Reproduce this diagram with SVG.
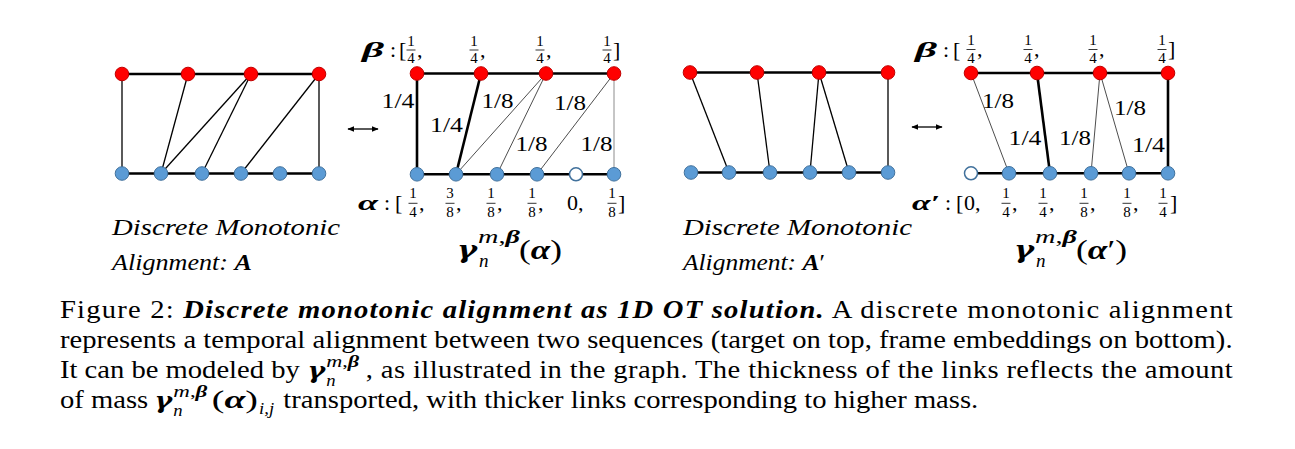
<svg xmlns="http://www.w3.org/2000/svg" width="1295" height="449" viewBox="0 0 1295 449">
<style>
text{font-family:"Liberation Serif","Times New Roman",serif;fill:#000}
.it{font-style:italic}
.bi{font-style:italic;font-weight:bold}
.g{font-family:"DejaVu Serif",serif;font-style:italic;font-weight:bold}
.r{fill:#ff0000;stroke:#c00000;stroke-width:1}
.b{fill:#5b9bd5;stroke:#41719c;stroke-width:1}
.w{fill:#ffffff;stroke:#41719c;stroke-width:1.5}
.chain{stroke:#000;stroke-width:2.6;fill:none}
.l1{stroke:#000;stroke-width:1.3}
.thick{stroke:#000;stroke-width:2.6}
.thin{stroke:#000;stroke-width:0.7}
.gray{stroke:#8c8c8c;stroke-width:1}
.lab{font-size:20px;text-anchor:middle}
.fr{font-size:15px;text-anchor:middle}
.bar{stroke:#000;stroke-width:0.8}
.m{font-size:22px}
.arr{stroke:#000;stroke-width:1.3;marker-start:url(#ah);marker-end:url(#ah)}
.cap{font-size:26px}
.sm{font-size:17px}
</style>
<defs>
<marker id="ah" viewBox="0 0 10 10" refX="9" refY="5" markerWidth="7" markerHeight="7" markerUnits="userSpaceOnUse" orient="auto-start-reverse">
<path d="M0,1 L10,5 L0,9 z" fill="#000"/>
</marker>
</defs>

<g id="connectors">
<line class="chain" x1="122" y1="74" x2="319" y2="74"/>
<line class="chain" x1="122" y1="173.5" x2="319" y2="173.5"/>
<line class="l1" x1="122" y1="74" x2="122" y2="173.5"/>
<line class="l1" x1="188" y1="74" x2="161" y2="173.5"/>
<line class="l1" x1="251" y1="74" x2="161" y2="173.5"/>
<line class="l1" x1="251" y1="74" x2="202" y2="173.5"/>
<line class="l1" x1="319" y1="74" x2="241" y2="173.5"/>
<line class="l1" x1="319" y1="74" x2="319" y2="173.5"/>
<line class="chain" x1="417" y1="73.5" x2="614" y2="73.5"/>
<line class="chain" x1="417" y1="174.3" x2="614" y2="174.3"/>
<line class="thick" x1="417" y1="73.5" x2="417" y2="174.3"/>
<line class="thick" x1="481" y1="73.5" x2="456" y2="174.3"/>
<line class="thin" x1="546" y1="73.5" x2="456" y2="174.3"/>
<line class="thin" x1="546" y1="73.5" x2="497" y2="174.3"/>
<line class="thin" x1="614" y1="73.5" x2="537" y2="174.3"/>
<line class="gray" x1="614" y1="73.5" x2="614" y2="174.3"/>
<line class="chain" x1="690" y1="72.5" x2="888" y2="72.5"/>
<line class="chain" x1="691" y1="172.5" x2="888" y2="172.5"/>
<line class="l1" x1="690" y1="72.5" x2="729" y2="172.5"/>
<line class="l1" x1="757" y1="72.5" x2="770" y2="172.5"/>
<line class="l1" x1="819" y1="72.5" x2="810" y2="172.5"/>
<line class="l1" x1="819" y1="72.5" x2="849" y2="172.5"/>
<line class="l1" x1="888" y1="72.5" x2="888" y2="172.5"/>
<line class="chain" x1="971" y1="73" x2="1168" y2="73"/>
<line class="chain" x1="971" y1="173.3" x2="1168" y2="173.3"/>
<line class="thin" x1="971" y1="73" x2="1009" y2="173.3"/>
<line class="thick" x1="1037" y1="73" x2="1050" y2="173.3"/>
<line class="thin" x1="1100" y1="73" x2="1091" y2="173.3"/>
<line class="thin" x1="1100" y1="73" x2="1129" y2="173.3"/>
<line class="thick" x1="1168" y1="73" x2="1168" y2="173.3"/>
<line class="arr" x1="348" y1="129" x2="378" y2="129"/>
<line class="arr" x1="912" y1="127" x2="942" y2="127"/>
</g>

<g id="d1-nodes">
<g id="d1-r0"><circle class="r" cx="122" cy="74" r="6.8"/></g>
<g id="d1-r1"><circle class="r" cx="188" cy="74" r="6.8"/></g>
<g id="d1-r2"><circle class="r" cx="251" cy="74" r="6.8"/></g>
<g id="d1-r3"><circle class="r" cx="319" cy="74" r="6.8"/></g>
<g id="d1-b0"><circle class="b" cx="122" cy="173.5" r="6.8"/></g>
<g id="d1-b1"><circle class="b" cx="161" cy="173.5" r="6.8"/></g>
<g id="d1-b2"><circle class="b" cx="202" cy="173.5" r="6.8"/></g>
<g id="d1-b3"><circle class="b" cx="241" cy="173.5" r="6.8"/></g>
<g id="d1-b4"><circle class="b" cx="280" cy="173.5" r="6.8"/></g>
<g id="d1-b5"><circle class="b" cx="319" cy="173.5" r="6.8"/></g>
</g>
<g id="d2-nodes">
<g id="d2-r0"><circle class="r" cx="417" cy="73.5" r="6.8"/></g>
<g id="d2-r1"><circle class="r" cx="481" cy="73.5" r="6.8"/></g>
<g id="d2-r2"><circle class="r" cx="546" cy="73.5" r="6.8"/></g>
<g id="d2-r3"><circle class="r" cx="614" cy="73.5" r="6.8"/></g>
<g id="d2-b0"><circle class="b" cx="417" cy="174.3" r="6.8"/></g>
<g id="d2-b1"><circle class="b" cx="456" cy="174.3" r="6.8"/></g>
<g id="d2-b2"><circle class="b" cx="497" cy="174.3" r="6.8"/></g>
<g id="d2-b3"><circle class="b" cx="537" cy="174.3" r="6.8"/></g>
<g id="d2-b4"><circle class="w" cx="576" cy="174.3" r="6.5"/></g>
<g id="d2-b5"><circle class="b" cx="614" cy="174.3" r="6.8"/></g>
</g>
<g id="d3-nodes">
<g id="d3-r0"><circle class="r" cx="690" cy="72.5" r="6.8"/></g>
<g id="d3-r1"><circle class="r" cx="757" cy="72.5" r="6.8"/></g>
<g id="d3-r2"><circle class="r" cx="819" cy="72.5" r="6.8"/></g>
<g id="d3-r3"><circle class="r" cx="888" cy="72.5" r="6.8"/></g>
<g id="d3-b0"><circle class="b" cx="691" cy="172.5" r="6.8"/></g>
<g id="d3-b1"><circle class="b" cx="729" cy="172.5" r="6.8"/></g>
<g id="d3-b2"><circle class="b" cx="770" cy="172.5" r="6.8"/></g>
<g id="d3-b3"><circle class="b" cx="810" cy="172.5" r="6.8"/></g>
<g id="d3-b4"><circle class="b" cx="849" cy="172.5" r="6.8"/></g>
<g id="d3-b5"><circle class="b" cx="888" cy="172.5" r="6.8"/></g>
</g>
<g id="d4-nodes">
<g id="d4-r0"><circle class="r" cx="971" cy="73" r="6.8"/></g>
<g id="d4-r1"><circle class="r" cx="1037" cy="73" r="6.8"/></g>
<g id="d4-r2"><circle class="r" cx="1100" cy="73" r="6.8"/></g>
<g id="d4-r3"><circle class="r" cx="1168" cy="73" r="6.8"/></g>
<g id="d4-b0"><circle class="w" cx="971" cy="173.3" r="6.5"/></g>
<g id="d4-b1"><circle class="b" cx="1009" cy="173.3" r="6.8"/></g>
<g id="d4-b2"><circle class="b" cx="1050" cy="173.3" r="6.8"/></g>
<g id="d4-b3"><circle class="b" cx="1091" cy="173.3" r="6.8"/></g>
<g id="d4-b4"><circle class="b" cx="1129" cy="173.3" r="6.8"/></g>
<g id="d4-b5"><circle class="b" cx="1168" cy="173.3" r="6.8"/></g>
</g>

<g id="link-labels">
<text class="lab" x="398" y="108" textLength="33" lengthAdjust="spacingAndGlyphs">1/4</text>
<text class="lab" x="446.5" y="132" textLength="33" lengthAdjust="spacingAndGlyphs">1/4</text>
<text class="lab" x="497.5" y="108" textLength="32" lengthAdjust="spacingAndGlyphs">1/8</text>
<text class="lab" x="531.5" y="151" textLength="32" lengthAdjust="spacingAndGlyphs">1/8</text>
<text class="lab" x="570" y="110" textLength="32" lengthAdjust="spacingAndGlyphs">1/8</text>
<text class="lab" x="596.5" y="151" textLength="32" lengthAdjust="spacingAndGlyphs">1/8</text>
<text class="lab" x="998" y="108" textLength="32" lengthAdjust="spacingAndGlyphs">1/8</text>
<text class="lab" x="1025" y="145" textLength="33" lengthAdjust="spacingAndGlyphs">1/4</text>
<text class="lab" x="1075" y="145" textLength="32" lengthAdjust="spacingAndGlyphs">1/8</text>
<text class="lab" x="1130" y="115" textLength="32" lengthAdjust="spacingAndGlyphs">1/8</text>
<text class="lab" x="1148.5" y="151.5" textLength="33" lengthAdjust="spacingAndGlyphs">1/4</text>
</g>

<g id="beta-row-1">
<text class="m bi" x="362" y="56.5" textLength="22" lengthAdjust="spacingAndGlyphs">β</text>
<text class="m" x="390" y="56.5">:</text>
<text class="m" x="399" y="56.5">[</text>
<text class="fr" x="411" y="45.5">1</text><line class="bar" x1="406.5" y1="50" x2="415.5" y2="50"/><text class="fr" x="411" y="63">4</text>
<text class="m" x="417" y="56.5">,</text>
<text class="fr" x="474" y="45.5">1</text><line class="bar" x1="469.5" y1="50" x2="478.5" y2="50"/><text class="fr" x="474" y="63">4</text>
<text class="m" x="480" y="56.5">,</text>
<text class="fr" x="540" y="45.5">1</text><line class="bar" x1="535.5" y1="50" x2="544.5" y2="50"/><text class="fr" x="540" y="63">4</text>
<text class="m" x="546" y="56.5">,</text>
<text class="fr" x="607" y="45.5">1</text><line class="bar" x1="602.5" y1="50" x2="611.5" y2="50"/><text class="fr" x="607" y="63">4</text>
<text class="m" x="613" y="56.5">]</text>
</g>

<g id="beta-row-2">
<text class="m bi" x="915" y="56.5" textLength="22" lengthAdjust="spacingAndGlyphs">β</text>
<text class="m" x="943" y="56.5">:</text>
<text class="m" x="953" y="56.5">[</text>
<text class="fr" x="971" y="45">1</text><line class="bar" x1="966.5" y1="49.5" x2="975.5" y2="49.5"/><text class="fr" x="971" y="62.5">4</text>
<text class="m" x="977" y="56">,</text>
<text class="fr" x="1028" y="45">1</text><line class="bar" x1="1023.5" y1="49.5" x2="1032.5" y2="49.5"/><text class="fr" x="1028" y="62.5">4</text>
<text class="m" x="1034" y="56">,</text>
<text class="fr" x="1093" y="45">1</text><line class="bar" x1="1088.5" y1="49.5" x2="1097.5" y2="49.5"/><text class="fr" x="1093" y="62.5">4</text>
<text class="m" x="1099" y="56">,</text>
<text class="fr" x="1162" y="45">1</text><line class="bar" x1="1157.5" y1="49.5" x2="1166.5" y2="49.5"/><text class="fr" x="1162" y="62.5">4</text>
<text class="m" x="1168" y="56">]</text>
</g>

<g id="alpha-row-1">
<text class="m bi" x="358" y="209.5" textLength="20" lengthAdjust="spacingAndGlyphs">α</text>
<text class="m" x="384" y="209.5">:</text>
<text class="m" x="395" y="209.5">[</text>
<text class="fr" x="413" y="198">1</text><line class="bar" x1="408.5" y1="203.3" x2="417.5" y2="203.3"/><text class="fr" x="413" y="216.5">4</text>
<text class="m" x="419" y="209.5">,</text>
<text class="fr" x="450" y="198">3</text><line class="bar" x1="445.5" y1="203.3" x2="454.5" y2="203.3"/><text class="fr" x="450" y="216.5">8</text>
<text class="m" x="456" y="209.5">,</text>
<text class="fr" x="491" y="198">1</text><line class="bar" x1="486.5" y1="203.3" x2="495.5" y2="203.3"/><text class="fr" x="491" y="216.5">8</text>
<text class="m" x="497" y="209.5">,</text>
<text class="fr" x="532" y="198">1</text><line class="bar" x1="527.5" y1="203.3" x2="536.5" y2="203.3"/><text class="fr" x="532" y="216.5">8</text>
<text class="m" x="538" y="209.5">,</text>
<text class="m" x="567" y="209.5">0,</text>
<text class="fr" x="612" y="198">1</text><line class="bar" x1="607.5" y1="203.3" x2="616.5" y2="203.3"/><text class="fr" x="612" y="216.5">8</text>
<text class="m" x="618" y="209.5">]</text>
</g>

<g id="alpha-row-2">
<text class="m bi" x="912" y="209.5" textLength="28" lengthAdjust="spacingAndGlyphs">α′</text>
<text class="m" x="945" y="209.5">:</text>
<text class="m" x="956" y="209.5">[</text>
<text class="m" x="964" y="209.5">0,</text>
<text class="fr" x="1006" y="198">1</text><line class="bar" x1="1001.5" y1="203.3" x2="1010.5" y2="203.3"/><text class="fr" x="1006" y="216.5">4</text>
<text class="m" x="1012" y="209.5">,</text>
<text class="fr" x="1043" y="198">1</text><line class="bar" x1="1038.5" y1="203.3" x2="1047.5" y2="203.3"/><text class="fr" x="1043" y="216.5">4</text>
<text class="m" x="1049" y="209.5">,</text>
<text class="fr" x="1084" y="198">1</text><line class="bar" x1="1079.5" y1="203.3" x2="1088.5" y2="203.3"/><text class="fr" x="1084" y="216.5">8</text>
<text class="m" x="1090" y="209.5">,</text>
<text class="fr" x="1127" y="198">1</text><line class="bar" x1="1122.5" y1="203.3" x2="1131.5" y2="203.3"/><text class="fr" x="1127" y="216.5">8</text>
<text class="m" x="1133" y="209.5">,</text>
<text class="fr" x="1163" y="198">1</text><line class="bar" x1="1158.5" y1="203.3" x2="1167.5" y2="203.3"/><text class="fr" x="1163" y="216.5">4</text>
<text class="m" x="1170" y="209.5">]</text>
</g>

<g id="gamma-label-1">
<text class="g" x="457" y="258" font-size="25" textLength="20" lengthAdjust="spacingAndGlyphs">γ</text>
<text x="478" y="243" font-size="19" textLength="42" lengthAdjust="spacingAndGlyphs"><tspan class="it">m</tspan>,<tspan class="bi">β</tspan></text>
<text class="it" x="479" y="267" font-size="19">n</text>
<text x="519" y="259" font-size="27" textLength="43" lengthAdjust="spacingAndGlyphs">(<tspan class="bi">α</tspan>)</text>
</g>
<g id="gamma-label-2">
<text class="g" x="1014" y="258" font-size="25" textLength="20" lengthAdjust="spacingAndGlyphs">γ</text>
<text x="1035" y="243" font-size="19" textLength="42" lengthAdjust="spacingAndGlyphs"><tspan class="it">m</tspan>,<tspan class="bi">β</tspan></text>
<text class="it" x="1036" y="267" font-size="19">n</text>
<text x="1076" y="259" font-size="27" textLength="51" lengthAdjust="spacingAndGlyphs">(<tspan class="bi">α</tspan>′)</text>
</g>

<g id="caption-a">
<text class="it" x="112" y="235" font-size="24" textLength="228" lengthAdjust="spacingAndGlyphs">Discrete Monotonic</text>
<text x="112" y="270" font-size="24" textLength="140" lengthAdjust="spacingAndGlyphs"><tspan class="it">Alignment:</tspan> <tspan class="bi">A</tspan></text>
</g>
<g id="caption-a-prime">
<text class="it" x="683" y="235" font-size="24" textLength="229" lengthAdjust="spacingAndGlyphs">Discrete Monotonic</text>
<text x="683" y="270" font-size="24" textLength="142" lengthAdjust="spacingAndGlyphs"><tspan class="it">Alignment:</tspan> <tspan class="bi">A</tspan>′</text>
</g>

<g id="figure-caption" transform="translate(60 0) scale(1.1 1) translate(-60 0)">
<text class="cap" x="60" y="318" textLength="1066" lengthAdjust="spacing">Figure 2: <tspan class="bi">Discrete monotonic alignment as 1D OT solution.</tspan>  A discrete monotonic alignment</text>
<text class="cap" x="60" y="348" textLength="1066" lengthAdjust="spacing">represents a temporal alignment between two sequences (target on top, frame embeddings on bottom).</text>
<text class="cap" x="60" y="378">It can be modeled by</text>
<text class="g" x="285" y="378" font-size="23" textLength="16" lengthAdjust="spacingAndGlyphs">γ</text>
<text class="sm" x="302" y="367" textLength="30" lengthAdjust="spacingAndGlyphs"><tspan class="it">m</tspan>,<tspan class="bi">β</tspan></text>
<text class="sm it" x="302" y="386">n</text>
<text class="cap" x="338" y="378" textLength="788" lengthAdjust="spacing">, as illustrated in the graph. The thickness of the links reflects the amount</text>
<text class="cap" x="60" y="408">of mass</text>
<text class="g" x="146" y="408" font-size="23" textLength="16" lengthAdjust="spacingAndGlyphs">γ</text>
<text class="sm" x="163" y="397" textLength="31" lengthAdjust="spacingAndGlyphs"><tspan class="it">m</tspan>,<tspan class="bi">β</tspan></text>
<text class="sm it" x="163" y="416">n</text>
<text class="cap" x="198" y="408" textLength="42" lengthAdjust="spacingAndGlyphs">(<tspan class="bi">α</tspan>)</text>
<text class="sm it" x="241" y="414">i,j</text>
<text class="cap" x="263" y="408">transported, with thicker links corresponding to higher mass.</text>
</g>
</svg>
